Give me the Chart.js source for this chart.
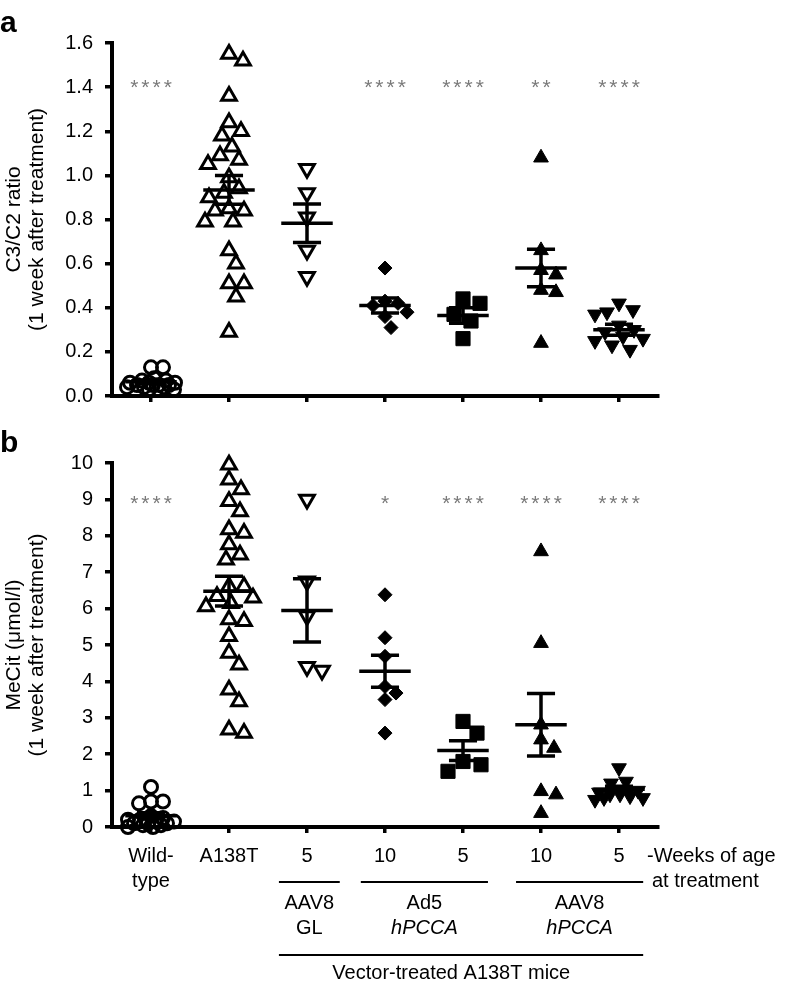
<!DOCTYPE html>
<html><head><meta charset="utf-8">
<script src="https://cdn.jsdelivr.net/npm/chart.js@4.4.1/dist/chart.umd.min.js"></script>
<style>
html,body{margin:0;padding:0;background:#fff;}
#wrap{position:relative;width:794px;height:986px;overflow:hidden;}
#ca{position:absolute;left:0;top:0;}
#cb{position:absolute;left:0;top:420px;}
</style></head><body>
<div id="wrap"><canvas id="ca" width="794" height="420"></canvas><canvas id="cb" width="794" height="566"></canvas></div>
<script>
// ---------- data ----------
const categories = ['Wild-type','A138T','AAV8 GL 5 wk','Ad5 hPCCA 10 wk','Ad5 hPCCA 5 wk','AAV8 hPCCA 10 wk','AAV8 hPCCA 5 wk'];
const xTickLabels = [['Wild-','type'],'A138T','5','10','5','10','5'];

// Panel a: C3/C2 ratio
const wtA     = [0.13,0.13,0.08,0.07,0.07,0.06,0.06,0.06,0.05,0.05,0.05,0.05,0.04,0.04,0.04,0.03,0.03];
const a138tA  = [1.55,1.52,1.36,1.24,1.20,1.18,1.13,1.09,1.07,1.05,0.99,0.94,0.92,0.90,0.85,0.84,0.84,0.79,0.79,0.66,0.60,0.51,0.51,0.45,0.29];
const glA     = [1.03,0.92,0.81,0.66,0.54];
const ad5w10A = [0.58,0.43,0.42,0.41,0.38,0.36,0.31];
const ad5w5A  = [0.44,0.42,0.37,0.34,0.26];
const aavw10A = [1.08,0.66,0.57,0.55,0.48,0.47,0.24];
const aavw5A  = [0.42,0.39,0.38,0.37,0.32,0.30,0.29,0.27,0.26,0.25,0.23,0.21];
const meansA  = [0.065,0.934,0.783,0.41,0.365,0.58,0.30];
const semsA   = [0.008,0.065,0.087,0.034,0.035,0.085,0.025];
const starsA  = ['****','','','****','****','**','****'];
const starLevelA = 1.42;
const yTicksA = [0,0.2,0.4,0.6,0.8,1.0,1.2,1.4,1.6];
const yTickLabelsA = ['0.0','0.2','0.4','0.6','0.8','1.0','1.2','1.4','1.6'];

// Panel b: MeCit
const wtB     = [1.10,0.70,0.70,0.65,0.30,0.25,0.20,0.20,0.15,0.15,0.10,0.10,0.10,0.05,0.05,0.00,0.00];
const a138tB  = [9.95,9.54,9.27,8.95,8.67,8.17,8.08,7.76,7.48,7.34,6.61,6.61,6.34,6.30,6.15,6.06,5.70,5.65,5.24,4.78,4.46,3.77,3.45,2.67,2.58];
const glB     = [9.00,6.75,5.80,4.40,4.30];
const ad5w10B = [6.38,5.20,4.69,3.86,3.68,3.50,2.58];
const ad5w5B  = [2.90,2.58,1.80,1.71,1.53];
const aavw10B = [7.57,5.05,2.81,2.40,2.17,0.98,0.89,0.38];
const aavw5B  = [1.62,1.25,1.20,1.00,0.95,0.90,0.90,0.85,0.80,0.80,0.75];
const meansB  = [0.31,6.48,5.95,4.28,2.10,2.81,1.04];
const semsB   = [0.08,0.41,0.87,0.44,0.27,0.86,0.08];
const starsB  = ['****','','','*','****','****','****'];
const starLevelB = 9.0;
const yTicksB = [0,1,2,3,4,5,6,7,8,9,10];
const yTickLabelsB = ['0','1','2','3','4','5','6','7','8','9','10'];

// ---------- styles ----------
const FONT = "'Liberation Sans', Arial, Helvetica, sans-serif";
const markers = [
  {style:'circle',   r:6.5, fill:false, rot:0},
  {style:'triangle', r:8.5, fill:false, rot:0},
  {style:'triangle', r:8.5, fill:false, rot:180},
  {style:'rectRot',  r:7,   fill:true,  rot:0},
  {style:'rect',     r:10,  fill:true,  rot:0},
  {style:'triangle', r:8.5, fill:true,  rot:0},
  {style:'triangle', r:8.5, fill:true,  rot:180}
];

function buildDatasets(groups, means, sems) {
  const ds = groups.map((vals, g) => {
    const m = markers[g];
    return {
      type:'scatter', label:categories[g],
      data: vals.map(v => ({x:g, y:v})),
      pointStyle:m.style, pointRadius:m.r, pointHoverRadius:m.r, pointRotation:m.rot,
      pointBackgroundColor: m.fill ? '#000' : 'rgba(0,0,0,0)',
      pointBorderColor:'#000', pointBorderWidth: m.fill ? 1 : 3,
      showLine:false, order:2, clip:false
    };
  });
  const meanData = [], semData = [];
  means.forEach((mu, g) => {
    meanData.push({x:g-0.33, y:mu}, {x:g+0.33, y:mu}, {x:g, y:null});
    const hi = mu + sems[g], lo = mu - sems[g];
    semData.push({x:g-0.18, y:hi}, {x:g+0.18, y:hi}, {x:g, y:null},
                 {x:g, y:hi}, {x:g, y:lo}, {x:g, y:null},
                 {x:g-0.18, y:lo}, {x:g+0.18, y:lo}, {x:g, y:null});
  });
  const lineStyle = {type:'line', showLine:true, pointRadius:0, borderColor:'#000', borderWidth:3.5,
                     borderCapStyle:'butt', spanGaps:false, tension:0, order:1, clip:false, fill:false};
  ds.push(Object.assign({label:'mean', data:meanData}, lineStyle));
  ds.push(Object.assign({label:'sem', data:semData}, lineStyle));
  return ds;
}

function swarm(py, diam, maxOff) {
  const order = py.map((_, i) => i).sort((a, b) => py[a] - py[b]);
  const placed = [], out = new Array(py.length);
  for (const i of order) {
    const y = py[i];
    let best = null, bestScore = -1;
    for (let k = 0; k <= 2 * maxOff; k++) {
      const c = (k === 0) ? 0 : ((k % 2) ? 1 : -1) * Math.ceil(k / 2);
      let minD = Infinity;
      for (const p of placed) minD = Math.min(minD, Math.hypot(p.x - c, p.y - y));
      if (minD >= diam) { best = c; break; }
      if (minD > bestScore + 0.5) { bestScore = minD; best = c; }
    }
    placed.push({x:best, y});
    out[i] = best;
  }
  return out;
}

function applySwarm(chart, groups) {
  const xs = chart.scales.x, ys = chart.scales.y;
  const unit = xs.getPixelForValue(1) - xs.getPixelForValue(0);
  groups.forEach((vals, g) => {
    const offs = swarm(vals.map(v => ys.getPixelForValue(v)), markers[g].r * 1.75, 24);
    chart.data.datasets[g].data = vals.map((v, i) => ({x: g + offs[i] / unit, y: v}));
  });
  chart.update('none');
}

function decoPlugin(letter, stars, level) {
  return {
    id:'deco',
    afterDatasetsDraw(chart) {
      const ctx = chart.ctx, xs = chart.scales.x, ys = chart.scales.y;
      ctx.save();
      ctx.fillStyle = '#000';
      ctx.font = 'bold 30px ' + FONT;
      ctx.textAlign = 'left'; ctx.textBaseline = 'alphabetic';
      ctx.fillText(letter, 0, 32);
      ctx.fillStyle = '#7a7a7a';
      ctx.font = '21px ' + FONT;
      ctx.textAlign = 'center';
      if ('letterSpacing' in ctx) ctx.letterSpacing = '3px';
      stars.forEach((s, g) => {
        if (!s) return;
        ctx.fillText(s, xs.getPixelForValue(g) + 1.5, ys.getPixelForValue(level) + 11);
      });
      ctx.restore();
    }
  };
}

const groupPlugin = {
  id:'groups',
  afterDraw(chart) {
    const ctx = chart.ctx, xs = chart.scales.x;
    const px = v => xs.getPixelForValue(v);
    ctx.save();
    ctx.strokeStyle = '#000'; ctx.lineWidth = 2;
    const seg = (a, b, y) => { ctx.beginPath(); ctx.moveTo(px(a), y); ctx.lineTo(px(b), y); ctx.stroke(); };
    seg(1.64, 2.42, 462); seg(2.69, 4.32, 462); seg(4.68, 6.31, 462);
    seg(1.64, 6.31, 535);
    ctx.fillStyle = '#000'; ctx.textAlign = 'center'; ctx.textBaseline = 'middle';
    const norm = '20px ' + FONT, ital = 'italic 20px ' + FONT;
    const txt = (t, x, y, f) => { ctx.font = f; ctx.fillText(t, x, y); };
    txt('AAV8', px(2.03), 483, norm); txt('GL', px(2.03), 508, norm);
    txt('Ad5', px(3.505), 483, norm); txt('hPCCA', px(3.505), 508, ital);
    txt('AAV8', px(5.495), 483, norm); txt('hPCCA', px(5.495), 508, ital);
    txt('Vector-treated A138T mice', px(3.85), 553, norm);
    ctx.textAlign = 'left';
    txt('-Weeks of age', 647, 436, norm);
    txt('at treatment', 652, 461, norm);
    ctx.restore();
  }
};

function makeChart(canvas, groups, means, sems, o) {
  return new Chart(canvas, {
    type:'scatter',
    data:{datasets: buildDatasets(groups, means, sems)},
    options:{
      responsive:false, animation:false, devicePixelRatio:1, events:[],
      layout:{padding:{top:43, left:0, right:136, bottom:0}},
      plugins:{legend:{display:false}, tooltip:{enabled:false}},
      scales:{
        x:{type:'linear', min:-0.5, max:6.5,
           afterBuildTicks: s => { s.ticks = categories.map((c, i) => ({value:i})); },
           afterFit: s => { s.height = o.xHeight; },
           grid:{display:true, drawOnChartArea:false, drawTicks:true, tickLength:6, lineWidth:3.5, color:'#000', tickColor:'#000'},
           border:{display:true, width:4, color:'#000'},
           ticks:{display:o.showX, autoSkip:false, maxRotation:0, minRotation:0, padding:11, color:'#000',
                  font:{family:FONT, size:20, lineHeight:1.25},
                  callback:(v, i) => xTickLabels[i]}
        },
        y:{type:'linear', min:o.yTicks[0], max:o.yTicks[o.yTicks.length-1],
           afterBuildTicks: s => { s.ticks = o.yTicks.map(v => ({value:v})); },
           afterFit: s => { s.width = 112; },
           grid:{display:true, drawOnChartArea:false, drawTicks:true, tickLength:7, lineWidth:3.5, color:'#000', tickColor:'#000'},
           border:{display:true, width:4, color:'#000'},
           ticks:{padding:12, color:'#000', font:{family:FONT, size:20}, callback:(v, i) => o.yLabels[i]},
           title:{display:true, text:o.title, color:'#000', font:{family:FONT, size:21, lineHeight:1.1}, padding:{top:3, bottom:0}}
        }
      }
    },
    plugins: o.plugins
  });
}

const groupsA = [wtA, a138tA, glA, ad5w10A, ad5w5A, aavw10A, aavw5A];
const groupsB = [wtB, a138tB, glB, ad5w10B, ad5w5B, aavw10B, aavw5B];

const chartA = makeChart(document.getElementById('ca'), groupsA, meansA, semsA, {
  xHeight:23, showX:false, yTicks:yTicksA, yLabels:yTickLabelsA,
  title:['C3/C2 ratio','(1 week after treatment)'],
  plugins:[decoPlugin('a', starsA, starLevelA)]
});
const chartB = makeChart(document.getElementById('cb'), groupsB, meansB, semsB, {
  xHeight:159, showX:true, yTicks:yTicksB, yLabels:yTickLabelsB,
  title:['MeCit (\u03BCmol/l)','(1 week after treatment)'],
  plugins:[decoPlugin('b', starsB, starLevelB), groupPlugin]
});
applySwarm(chartA, groupsA);
applySwarm(chartB, groupsB);
</script>
</body></html>
